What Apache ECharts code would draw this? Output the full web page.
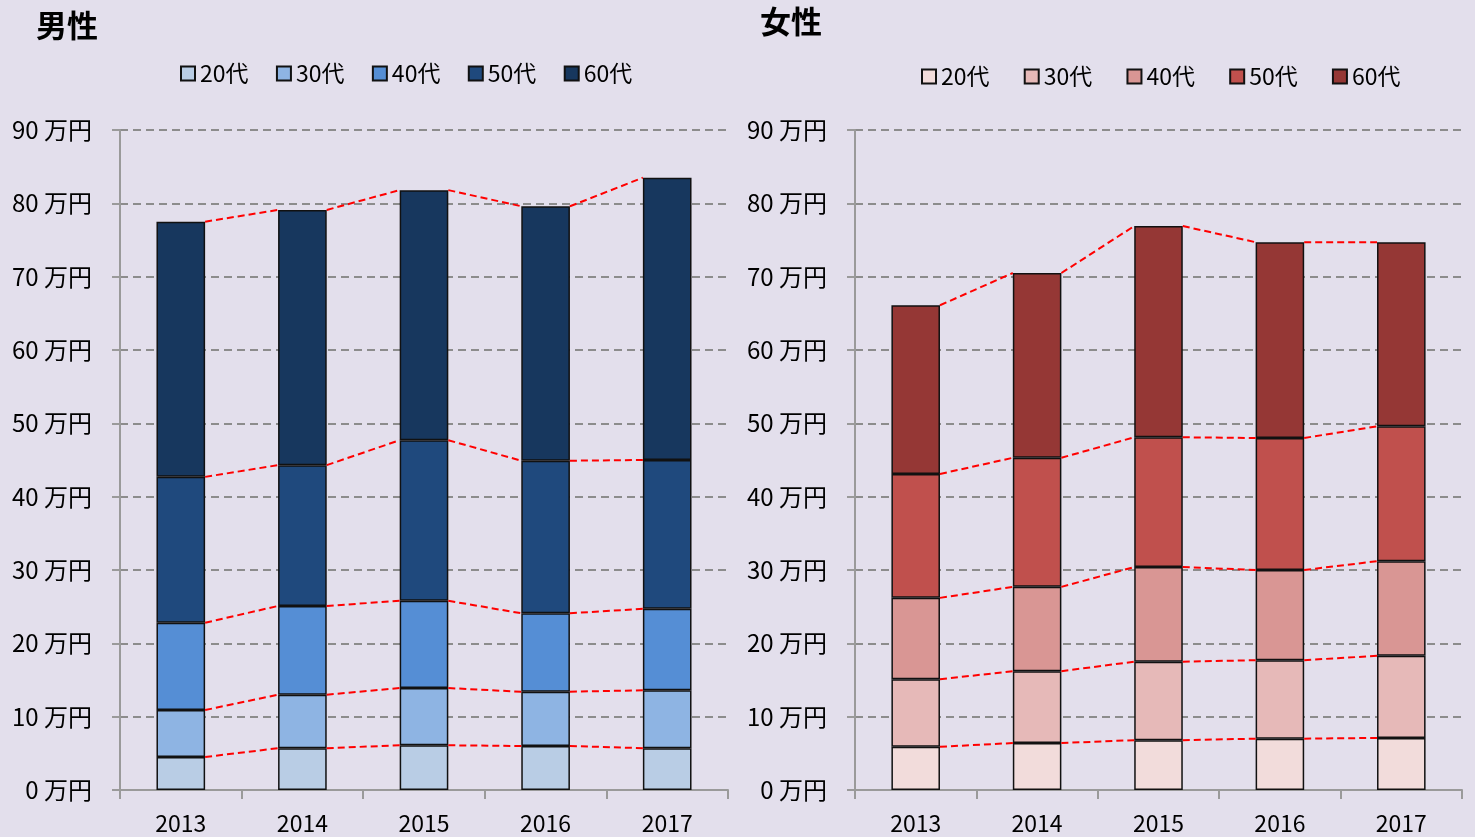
<!DOCTYPE html>
<html><head><meta charset="utf-8">
<script src="https://cdn.jsdelivr.net/npm/echarts@6/dist/echarts.min.js"></script>
<style>html,body{margin:0;padding:0;background:#e3dfec;}#c{width:1475px;height:837px;}</style>
</head><body><div id="c"></div>
<script>
const years = ['2013','2014','2015','2016','2017'];
const ages = ['20代','30代','40代','50代','60代'];
const yTicks = [0,10,20,30,40,50,60,70,80,90];
// 男性 (万円)
const male20 = [4.5, 5.7, 6.1, 6.0, 5.7];
const male30 = [6.4, 7.3, 7.8, 7.4, 7.9];
const male40 = [11.9, 12.1, 11.9, 10.7, 11.1];
const male50 = [19.9, 19.2, 21.9, 20.8, 20.3];
const male60 = [34.8, 34.8, 34.1, 34.7, 38.5];
// 女性 (万円)
const female20 = [5.9, 6.4, 6.8, 7.0, 7.1];
const female30 = [9.2, 9.8, 10.7, 10.7, 11.2];
const female40 = [11.1, 11.5, 12.9, 12.3, 12.9];
const female50 = [16.9, 17.6, 17.7, 18.0, 18.4];
const female60 = [23.0, 25.2, 28.8, 26.7, 25.1];

const maleColors = ['#b9cde5','#8eb4e3','#558ed5','#1f497d','#17375e'];
const femaleColors = ['#f2dcdb','#e6b9b8','#d99694','#c0504d','#953735'];

const maleData = [male20, male30, male40, male50, male60];
const femaleData = [female20, female30, female40, female50, female60];

function cumul(arrs){
  const out = []; let run = years.map(()=>0);
  arrs.forEach(a=>{ run = run.map((v,i)=>v+a[i]); out.push(run.slice()); });
  return out;
}
function lineData(arrs){
  const c = cumul(arrs); const d = [];
  c.forEach(row=>{ for(let i=0;i<row.length-1;i++) d.push([i,row[i],row[i+1]]); });
  return d;
}
function renderSeriesLine(params, api){
  const i = api.value(0), v0 = api.value(1), v1 = api.value(2);
  const a = api.coord([i, v0]); const b = api.coord([i+1, v1]);
  const hw = api.size([1,0])[0]*0.2;
  return {type:'line', shape:{x1:a[0]+hw, y1:a[1], x2:b[0]-hw, y2:b[1]},
    style:{stroke:'#ff0000', lineWidth:2, lineDash:[7,4]}};
}
const FONT = '"Noto Sans CJK JP", "Noto Sans", sans-serif';

const series = [];
ages.forEach((name,k)=>{
  series.push({name, type:'bar', stack:'m', xAxisIndex:0, yAxisIndex:0, data:maleData[k], barWidth:'40%',
    itemStyle:{color:maleColors[k], borderColor:'#111', borderWidth:1.5}});
});
ages.forEach((name,k)=>{
  series.push({name:name+' ', type:'bar', stack:'f', xAxisIndex:1, yAxisIndex:1, data:femaleData[k], barWidth:'40%',
    itemStyle:{color:femaleColors[k], borderColor:'#111', borderWidth:1.5}});
});
series.push({type:'custom', xAxisIndex:0, yAxisIndex:0, data:lineData(maleData), renderItem:renderSeriesLine, silent:true, z:5});
series.push({type:'custom', xAxisIndex:1, yAxisIndex:1, data:lineData(femaleData), renderItem:renderSeriesLine, silent:true, z:5});

function xAx(idx){
  return {type:'category', gridIndex:idx, data:years,
    axisLine:{lineStyle:{color:'#9a9a9a', width:2}},
    axisTick:{show:true, length:9, lineStyle:{color:'#9a9a9a', width:2}},
    axisLabel:{color:'#000', fontSize:23, fontFamily:FONT, margin:22}};
}
function yAx(idx){
  return {type:'value', gridIndex:idx, min:yTicks[0], max:yTicks[yTicks.length-1], interval:yTicks[1]-yTicks[0],
    axisLine:{show:true, lineStyle:{color:'#9a9a9a', width:2}},
    axisTick:{show:true, length:8, lineStyle:{color:'#9a9a9a', width:2}},
    splitLine:{lineStyle:{color:'#8c8c8c', width:2, type:[8,5]}},
    axisLabel:{color:'#000', fontSize:24, fontFamily:FONT, margin:28, formatter:'{value} 万円'}};
}

const chart = echarts.init(document.getElementById('c'));
chart.setOption({
  backgroundColor:'#e3dfec',
  animation:false,
  title:[
    {text:'男性', left:31, top:5, textStyle:{fontSize:31, fontWeight:'bold', color:'#000', fontFamily:FONT}},
    {text:'女性', left:755, top:1, textStyle:{fontSize:31, fontWeight:'bold', color:'#000', fontFamily:FONT}}
  ],
  legend:[
    {data:ages, left:175, top:57, itemWidth:14, itemHeight:14, itemGap:27.4, icon:'rect',
      textStyle:{fontSize:23, color:'#000', fontFamily:FONT}},
    {data:ages.map(a=>a+' '), left:916, top:60, itemWidth:14, itemHeight:14, itemGap:34.2, icon:'rect',
      formatter:n=>n.trim(),
      textStyle:{fontSize:23, color:'#000', fontFamily:FONT}}
  ],
  grid:[
    {left:120, top:130, width:608, height:660, containLabel:false},
    {left:855, top:130, width:607, height:660, containLabel:false}
  ],
  xAxis:[xAx(0), xAx(1)],
  yAxis:[yAx(0), yAx(1)],
  series
});
</script></body></html>
